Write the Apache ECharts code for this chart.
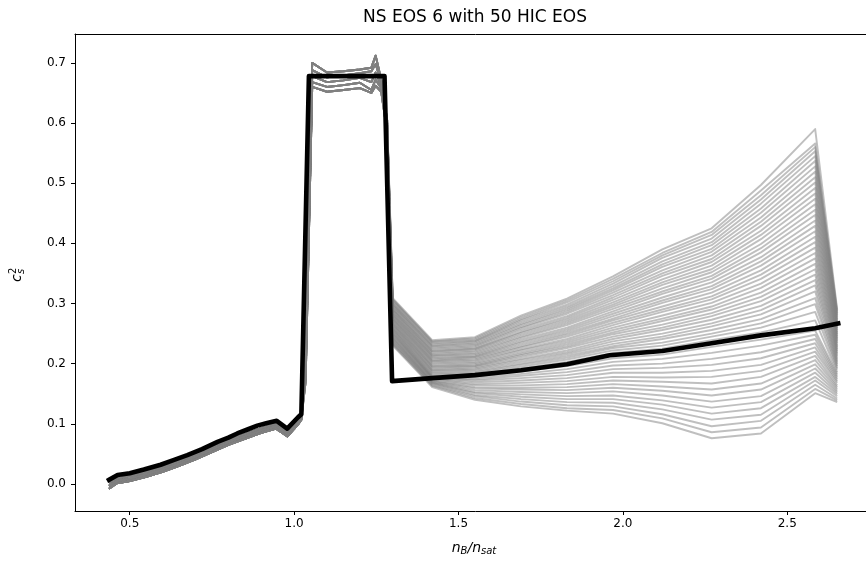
<!DOCTYPE html>
<html>
<head>
<meta charset="utf-8">
<title>NS EOS 6 with 50 HIC EOS</title>
<script src="https://cdn.jsdelivr.net/npm/echarts@6/dist/echarts.min.js"></script>
<style>
  html, body { margin: 0; padding: 0; background: #fff; overflow: hidden; }
  /* the figure is cut at the right edge, so the chart is a bit wider than the window */
  #chart { width: 884px; height: 561px; }
</style>
</head>
<body>
<div id="chart"></div>
<script>
// tick labels
const xTicks = [0.5, 1.0, 1.5, 2.0, 2.5];
const yTicks = [0.0, 0.1, 0.2, 0.3, 0.4, 0.5, 0.6, 0.7];

// NS EOS 6 (black curve)
const nsX = [0.437, 0.463, 0.50, 0.543, 0.594, 0.635, 0.675, 0.72, 0.767, 0.80, 0.827, 0.86, 0.888, 0.915, 0.947, 0.979, 1.012, 1.022,
             1.045, 1.275, 1.298, 1.42, 1.55, 1.69, 1.83, 1.96, 2.12, 2.27, 2.42, 2.585, 2.655];
const nsY = [0.007, 0.015, 0.018, 0.024, 0.032, 0.040, 0.048, 0.058, 0.070, 0.077, 0.084, 0.091, 0.097, 0.101, 0.105, 0.092, 0.111, 0.116,
             0.678, 0.678, 0.171, 0.176, 0.181, 0.189, 0.199, 0.214, 0.221, 0.234, 0.247, 0.259, 0.267];

// HIC EOS, low density part (nearly the same for all 50)
const lowX = [0.437, 0.46, 0.50, 0.55, 0.60, 0.65, 0.70, 0.75, 0.80, 0.85, 0.90, 0.945, 0.98, 1.012, 1.022];
const lowA = [0.002, 0.009, 0.013, 0.020, 0.028, 0.038, 0.049, 0.061, 0.073, 0.083, 0.093, 0.100, 0.087, 0.106, 0.113];
const lowB = [-0.003, 0.005, 0.009, 0.016, 0.024, 0.034, 0.045, 0.057, 0.069, 0.079, 0.089, 0.096, 0.083, 0.102, 0.110];
const lowC = [-0.008, 0.001, 0.005, 0.012, 0.020, 0.030, 0.041, 0.053, 0.065, 0.075, 0.085, 0.092, 0.079, 0.099, 0.107];

// HIC EOS, plateau
const platX = [1.035, 1.055, 1.10, 1.15, 1.20, 1.235, 1.248, 1.265, 1.283];
const platA = [0.22, 0.700, 0.684, 0.686, 0.689, 0.692, 0.712, 0.672, 0.605];
const platB = [0.20, 0.688, 0.676, 0.679, 0.683, 0.686, 0.698, 0.668, 0.600];
const platC = [0.19, 0.678, 0.668, 0.671, 0.675, 0.668, 0.684, 0.662, 0.595];
const platD = [0.18, 0.668, 0.660, 0.663, 0.667, 0.655, 0.672, 0.658, 0.590];
const platE = [0.17, 0.660, 0.652, 0.655, 0.658, 0.650, 0.662, 0.652, 0.585];

// HIC EOS, high density fan: one array per density, 50 curves each
const fanX = [1.30, 1.42, 1.55, 1.69, 1.83, 1.97, 2.12, 2.27, 2.42, 2.585, 2.652];
const fan130 = [0.309, 0.307, 0.306, 0.304, 0.302, 0.300, 0.299, 0.297, 0.296, 0.294,
                0.292, 0.291, 0.289, 0.288, 0.286, 0.284, 0.283, 0.281, 0.280, 0.278,
                0.276, 0.275, 0.273, 0.272, 0.270, 0.268, 0.267, 0.265, 0.264, 0.262,
                0.260, 0.259, 0.257, 0.256, 0.254, 0.252, 0.251, 0.249, 0.248, 0.246,
                0.244, 0.243, 0.241, 0.240, 0.238, 0.236, 0.235, 0.233, 0.232, 0.230];
const fan142 = [0.239, 0.237, 0.236, 0.234, 0.232, 0.230, 0.229, 0.227, 0.225, 0.223,
                0.221, 0.220, 0.218, 0.216, 0.214, 0.213, 0.211, 0.209, 0.207, 0.205,
                0.204, 0.202, 0.200, 0.198, 0.196, 0.195, 0.193, 0.191, 0.189, 0.188,
                0.186, 0.184, 0.182, 0.180, 0.179, 0.178, 0.177, 0.176, 0.175, 0.174,
                0.172, 0.171, 0.170, 0.169, 0.168, 0.167, 0.166, 0.164, 0.163, 0.161];
const fan155 = [0.244, 0.242, 0.240, 0.238, 0.237, 0.235, 0.233, 0.231, 0.229, 0.227,
                0.225, 0.224, 0.222, 0.220, 0.218, 0.216, 0.214, 0.212, 0.211, 0.209,
                0.207, 0.205, 0.203, 0.201, 0.199, 0.197, 0.196, 0.194, 0.192, 0.190,
                0.188, 0.186, 0.184, 0.182, 0.179, 0.177, 0.174, 0.172, 0.169, 0.166,
                0.164, 0.161, 0.159, 0.156, 0.153, 0.151, 0.148, 0.146, 0.143, 0.140];
const fan169 = [0.280, 0.277, 0.274, 0.272, 0.269, 0.266, 0.264, 0.261, 0.259, 0.256,
                0.253, 0.251, 0.248, 0.245, 0.243, 0.240, 0.237, 0.235, 0.232, 0.229,
                0.227, 0.224, 0.222, 0.219, 0.216, 0.214, 0.211, 0.208, 0.206, 0.203,
                0.200, 0.198, 0.195, 0.192, 0.187, 0.183, 0.180, 0.176, 0.172, 0.168,
                0.164, 0.160, 0.157, 0.153, 0.149, 0.145, 0.141, 0.137, 0.133, 0.129];
const fan183 = [0.308, 0.305, 0.302, 0.298, 0.295, 0.292, 0.289, 0.286, 0.283, 0.279,
                0.276, 0.273, 0.270, 0.267, 0.264, 0.260, 0.257, 0.254, 0.251, 0.248,
                0.245, 0.241, 0.238, 0.235, 0.232, 0.229, 0.226, 0.222, 0.219, 0.216,
                0.213, 0.210, 0.207, 0.203, 0.196, 0.191, 0.186, 0.181, 0.176, 0.171,
                0.166, 0.161, 0.156, 0.151, 0.146, 0.141, 0.136, 0.131, 0.126, 0.122];
const fan197 = [0.345, 0.341, 0.337, 0.333, 0.329, 0.325, 0.322, 0.318, 0.314, 0.310,
                0.306, 0.302, 0.298, 0.295, 0.291, 0.287, 0.283, 0.279, 0.275, 0.272,
                0.268, 0.264, 0.260, 0.256, 0.252, 0.249, 0.245, 0.241, 0.237, 0.233,
                0.229, 0.226, 0.222, 0.218, 0.209, 0.203, 0.197, 0.191, 0.185, 0.178,
                0.172, 0.166, 0.160, 0.154, 0.147, 0.141, 0.135, 0.129, 0.123, 0.117];
const fan212 = [0.390, 0.384, 0.380, 0.376, 0.370, 0.365, 0.361, 0.355, 0.350, 0.346,
                0.340, 0.335, 0.331, 0.325, 0.320, 0.316, 0.310, 0.305, 0.301, 0.295,
                0.290, 0.286, 0.280, 0.275, 0.271, 0.265, 0.260, 0.256, 0.250, 0.245,
                0.241, 0.235, 0.230, 0.225, 0.215, 0.208, 0.200, 0.193, 0.185, 0.177,
                0.170, 0.162, 0.155, 0.147, 0.139, 0.132, 0.124, 0.116, 0.109, 0.101];
const fan227 = [0.425, 0.419, 0.414, 0.408, 0.402, 0.397, 0.391, 0.386, 0.380, 0.374,
                0.369, 0.363, 0.357, 0.352, 0.346, 0.341, 0.335, 0.329, 0.324, 0.318,
                0.312, 0.307, 0.301, 0.295, 0.290, 0.284, 0.279, 0.273, 0.267, 0.262,
                0.256, 0.250, 0.245, 0.239, 0.228, 0.218, 0.208, 0.198, 0.188, 0.178,
                0.167, 0.157, 0.147, 0.137, 0.127, 0.117, 0.107, 0.096, 0.086, 0.076];
const fan242 = [0.497, 0.488, 0.480, 0.473, 0.466, 0.458, 0.451, 0.443, 0.436, 0.429,
                0.421, 0.414, 0.407, 0.399, 0.392, 0.385, 0.377, 0.370, 0.363, 0.355,
                0.348, 0.341, 0.333, 0.326, 0.318, 0.311, 0.304, 0.296, 0.289, 0.282,
                0.274, 0.267, 0.260, 0.252, 0.240, 0.230, 0.219, 0.209, 0.198, 0.188,
                0.178, 0.167, 0.157, 0.146, 0.136, 0.126, 0.115, 0.105, 0.094, 0.084];
const fan2585 = [0.590, 0.566, 0.560, 0.553, 0.545, 0.537, 0.528, 0.519, 0.510, 0.501,
                 0.492, 0.483, 0.474, 0.465, 0.456, 0.447, 0.438, 0.429, 0.420, 0.411,
                 0.402, 0.393, 0.384, 0.375, 0.366, 0.357, 0.348, 0.339, 0.330, 0.320,
                 0.309, 0.299, 0.286, 0.272, 0.255, 0.248, 0.241, 0.234, 0.227, 0.220,
                 0.213, 0.206, 0.199, 0.192, 0.185, 0.178, 0.172, 0.165, 0.158, 0.151];
const fan2652 = [0.290, 0.287, 0.284, 0.281, 0.278, 0.274, 0.271, 0.268, 0.265, 0.262,
                 0.259, 0.256, 0.252, 0.249, 0.246, 0.243, 0.240, 0.237, 0.234, 0.230,
                 0.227, 0.224, 0.221, 0.218, 0.215, 0.212, 0.208, 0.205, 0.202, 0.199,
                 0.196, 0.193, 0.190, 0.186, 0.183, 0.180, 0.177, 0.174, 0.171, 0.168,
                 0.164, 0.161, 0.158, 0.155, 0.152, 0.149, 0.146, 0.142, 0.139, 0.136];

const lowSets = [lowA, lowB, lowC];
const platSets = [platA, platB, platC, platD, platE];
const fanCols = [fan130, fan142, fan155, fan169, fan183, fan197, fan212, fan227, fan242, fan2585, fan2652];

const FONT = 'DejaVu Sans';
const X_MIN = 0.3335, X_MAX = 2.770;

const series = [];
for (let i = 0; i < fan130.length; i++) {
  const low = lowSets[i % 3];
  const plat = platSets[i % 5];
  const pts = [];
  lowX.forEach((x, k) => pts.push([x, low[k]]));
  platX.forEach((x, k) => pts.push([x, plat[k]]));
  fanX.forEach((x, k) => pts.push([x, fanCols[k][i]]));
  series.push({
    type: 'line', data: pts, showSymbol: false, silent: true, z: 2,
    lineStyle: { color: 'rgba(128,128,128,0.5)', width: 1.9, join: 'round' }
  });
}
series.push({
  type: 'line', data: nsX.map((x, k) => [x, nsY[k]]), showSymbol: false, silent: true, z: 5,
  lineStyle: { color: '#000', width: 4.6, join: 'round', cap: 'square' }
});

const chart = echarts.init(document.getElementById('chart'), null, { renderer: 'canvas' });
chart.setOption({
  animation: false,
  backgroundColor: '#fff',
  grid: { left: 75, top: 34, width: 801, height: 477 },
  xAxis: [
    {
      type: 'value', min: X_MIN, max: X_MAX, position: 'bottom',
      axisLine: { show: true, onZero: false, lineStyle: { color: '#000', width: 1 } },
      splitLine: { show: false },
      axisTick: { show: true, length: 4, customValues: xTicks, lineStyle: { color: '#000', width: 1 } },
      axisLabel: { customValues: xTicks, formatter: v => v.toFixed(1), color: '#000', fontFamily: FONT, fontSize: 12, margin: 7 }
    },
    {
      // top spine only
      type: 'value', min: X_MIN, max: X_MAX, position: 'top',
      axisLine: { show: true, onZero: false, lineStyle: { color: '#000', width: 1 } },
      splitLine: { show: false }, axisTick: { show: false }, axisLabel: { show: false }
    }
  ],
  yAxis: {
    type: 'value', min: -0.0449, max: 0.748,
    axisLine: { show: true, onZero: false, lineStyle: { color: '#000', width: 1 } },
    splitLine: { show: false },
    axisTick: { show: true, length: 4, customValues: yTicks, lineStyle: { color: '#000', width: 1 } },
    axisLabel: { customValues: yTicks, formatter: v => v.toFixed(1), color: '#000', fontFamily: FONT, fontSize: 12, margin: 9 }
  },
  graphic: [
    {
      type: 'text', x: 475, y: 18, silent: true,
      style: { text: 'NS EOS 6 with 50 HIC EOS', font: '17px "DejaVu Sans"', fill: '#000',
               align: 'center', textAlign: 'center', verticalAlign: 'middle', textVerticalAlign: 'middle' }
    },
    {
      type: 'text', x: 474, y: 548, silent: true,
      style: {
        text: '{i|n}{s|B}{i|/n}{s|sat}', fill: '#000',
        align: 'center', textAlign: 'center', verticalAlign: 'middle', textVerticalAlign: 'middle',
        rich: {
          i: { fontFamily: FONT, fontStyle: 'italic', fontSize: 14, lineHeight: 17 },
          s: { fontFamily: FONT, fontStyle: 'italic', fontSize: 10, lineHeight: 10, verticalAlign: 'bottom' }
        }
      }
    },
    {
      type: 'group', x: 17, y: 275, rotation: Math.PI / 2, silent: true,
      children: [
        { type: 'text', x: -7, y: 0, style: { text: 'c', font: 'italic 14px "DejaVu Sans"', fill: '#000', align: 'left', textAlign: 'left', verticalAlign: 'middle', textVerticalAlign: 'middle' } },
        { type: 'text', x: 1, y: 4, style: { text: 's', font: 'italic 10px "DejaVu Sans"', fill: '#000', align: 'left', textAlign: 'left', verticalAlign: 'middle', textVerticalAlign: 'middle' } },
        { type: 'text', x: 1, y: -4, style: { text: '2', font: '10px "DejaVu Sans"', fill: '#000', align: 'left', textAlign: 'left', verticalAlign: 'middle', textVerticalAlign: 'middle' } }
      ]
    }
  ],
  series: series
});
</script>
</body>
</html>
